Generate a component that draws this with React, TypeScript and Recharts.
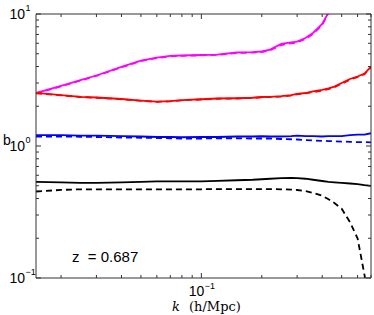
import React from 'react';
import { LineChart, Line, XAxis, YAxis } from 'recharts';

const kValues = [0.015, 0.02, 0.025, 0.03, 0.04, 0.05, 0.06, 0.07, 0.08, 0.1, 0.12, 0.15, 0.18, 0.2, 0.22, 0.25, 0.28, 0.3, 0.33, 0.36, 0.4, 0.43, 0.46, 0.5, 0.55, 0.6, 0.65, 0.7];

const magentaSolid = [2.52, 2.85, 3.16, 3.42, 3.97, 4.44, 4.68, 4.81, 4.85, 4.89, 4.93, 5.11, 5.15, 5.2, 5.38, 5.93, 6.09, 6.17, 6.58, 7.18, 8.4, 10.3, null, null, null, null, null, null];
const magentaDashed = [2.5, 2.83, 3.13, 3.4, 3.94, 4.4, 4.64, 4.78, 4.82, 4.86, 4.9, 5.06, 5.1, 5.14, 5.3, 5.82, 6.0, 6.08, 6.48, 7.05, 8.25, 10.2, null, null, null, null, null, null];
const redSolid = [2.53, 2.43, 2.36, 2.33, 2.27, 2.21, 2.17, 2.19, 2.23, 2.26, 2.29, 2.3, 2.32, 2.35, 2.36, 2.39, 2.43, 2.48, 2.52, 2.59, 2.66, 2.73, 2.82, 3.0, 3.22, 3.36, 3.54, 3.99];
const redDashed = [2.51, 2.42, 2.35, 2.32, 2.26, 2.2, 2.16, 2.18, 2.22, 2.25, 2.28, 2.29, 2.31, 2.34, 2.35, 2.37, 2.41, 2.46, 2.5, 2.56, 2.63, 2.7, 2.79, 2.96, 3.18, 3.33, 3.5, 3.95];
const blueSolid = [1.21, 1.21, 1.2, 1.2, 1.19, 1.18, 1.17, 1.17, 1.165, 1.17, 1.17, 1.18, 1.18, 1.185, 1.18, 1.18, 1.19, 1.2, 1.19, 1.19, 1.18, 1.19, 1.19, 1.19, 1.21, 1.22, 1.22, 1.25];
const blueDashed = [1.18, 1.18, 1.175, 1.17, 1.16, 1.155, 1.15, 1.145, 1.14, 1.14, 1.145, 1.145, 1.14, 1.14, 1.14, 1.13, 1.125, 1.12, 1.11, 1.1, 1.095, 1.09, 1.085, 1.08, 1.075, 1.07, 1.07, 1.065];
const blackSolid = [0.535, 0.53, 0.525, 0.525, 0.53, 0.535, 0.54, 0.54, 0.54, 0.54, 0.545, 0.55, 0.555, 0.56, 0.565, 0.57, 0.572, 0.57, 0.565, 0.555, 0.543, 0.535, 0.53, 0.525, 0.52, 0.515, 0.505, 0.498];
const blackDashed = [0.452, 0.465, 0.47, 0.47, 0.47, 0.47, 0.47, 0.47, 0.47, 0.47, 0.472, 0.472, 0.472, 0.472, 0.472, 0.47, 0.468, 0.464, 0.455, 0.442, 0.42, 0.395, 0.37, 0.335, 0.265, 0.2, 0.105, 0.05];

const xTicks = [0.02, 0.03, 0.04, 0.05, 0.06, 0.07, 0.08, 0.09, 0.1, 0.2, 0.3, 0.4, 0.5, 0.6, 0.7];
const yTicks = [0.1, 0.2, 0.3, 0.4, 0.5, 0.6, 0.7, 0.8, 0.9, 1, 2, 3, 4, 5, 6, 7, 8, 9, 10];
const xDomain = [0.015, 0.7];
const yDomain = [0.1, 10];

const yLabel = 'b';
const xLabelVar = 'k';
const xLabelUnit = '(h/Mpc)';
const annotation = 'z  = 0.687';

const data = kValues.map((k, i) => ({
  k,
  magentaSolid: magentaSolid[i],
  magentaDashed: magentaDashed[i],
  redSolid: redSolid[i],
  redDashed: redDashed[i],
  blueSolid: blueSolid[i],
  blueDashed: blueDashed[i],
  blackSolid: blackSolid[i],
  blackDashed: blackDashed[i],
}));

const AX = '#333';
const SANS = '"Liberation Sans", Arial, Helvetica, sans-serif';

const isDecade = (v: number) => Math.abs(Math.log10(v) - Math.round(Math.log10(v))) < 1e-6;
const expOf = (v: number) => {
  const e = Math.round(Math.log10(v));
  return e < 0 ? '\u2212' + Math.abs(e) : String(e);
};

const makeXTick = (side: 'bottom' | 'top') => (props: any) => {
  const { x, y, payload } = props;
  const v = payload.value;
  const major = isDecade(v);
  const len = major ? 5 : 3;
  const dir = side === 'bottom' ? -1 : 1;
  return (
    <g>
      <line x1={x} x2={x} y1={y} y2={y + dir * len} stroke={AX} strokeWidth={1} />
      {side === 'bottom' && major && (
        <g fontFamily={SANS} fill="#000">
          <text x={x + 3} y={y + 17.5} fontSize={14} textAnchor="end">10</text>
          <text x={x + 3.5} y={y + 11} fontSize={9} textAnchor="start">{expOf(v)}</text>
        </g>
      )}
    </g>
  );
};

const makeYTick = (side: 'left' | 'right') => (props: any) => {
  const { x, y, payload } = props;
  const v = payload.value;
  const major = isDecade(v);
  const len = major ? 5 : 3;
  const dir = side === 'left' ? 1 : -1;
  return (
    <g>
      <line x1={x} x2={x + dir * len} y1={y} y2={y} stroke={AX} strokeWidth={1} />
      {side === 'left' && major && (
        <g fontFamily={SANS} fill="#000">
          <text x={x - 11} y={y + 5} fontSize={14} textAnchor="end">10</text>
          <text x={x - 10.5} y={y - 3} fontSize={9} textAnchor="start">{expOf(v)}</text>
        </g>
      )}
    </g>
  );
};

const series = [
  { key: 'magentaSolid', color: '#ff00ff', dash: undefined },
  { key: 'magentaDashed', color: '#ff00ff', dash: '6 4' },
  { key: 'redSolid', color: '#ff0000', dash: undefined },
  { key: 'redDashed', color: '#ff0000', dash: '6 4' },
  { key: 'blueSolid', color: '#0000ff', dash: undefined },
  { key: 'blueDashed', color: '#0000ff', dash: '6 4' },
  { key: 'blackSolid', color: '#000000', dash: undefined },
  { key: 'blackDashed', color: '#000000', dash: '6 4' },
];

export default function App() {
  return (
    <div style={{ position: 'absolute', left: 0, top: 0, width: 374, height: 315, background: '#fff' }}>
      <LineChart width={374} height={315} data={data} margin={{ top: 13, right: 2, bottom: 36, left: 35 }}>
        <XAxis
          xAxisId="bottom"
          dataKey="k"
          type="number"
          scale="log"
          domain={xDomain}
          allowDataOverflow
          ticks={xTicks}
          interval={0}
          height={1}
          tickSize={0}
          tickMargin={0}
          axisLine={{ stroke: AX }}
          tickLine={false}
          tick={makeXTick('bottom')}
        />
        <XAxis
          xAxisId="top"
          orientation="top"
          dataKey="k"
          type="number"
          scale="log"
          domain={xDomain}
          allowDataOverflow
          ticks={xTicks}
          interval={0}
          height={1}
          tickSize={0}
          tickMargin={0}
          axisLine={{ stroke: AX }}
          tickLine={false}
          tick={makeXTick('top')}
        />
        <YAxis
          yAxisId="left"
          type="number"
          scale="log"
          domain={yDomain}
          allowDataOverflow
          ticks={yTicks}
          interval={0}
          width={1}
          tickSize={0}
          tickMargin={0}
          axisLine={{ stroke: AX }}
          tickLine={false}
          tick={makeYTick('left')}
        />
        <YAxis
          yAxisId="right"
          orientation="right"
          type="number"
          scale="log"
          domain={yDomain}
          allowDataOverflow
          ticks={yTicks}
          interval={0}
          width={1}
          tickSize={0}
          tickMargin={0}
          axisLine={{ stroke: AX }}
          tickLine={false}
          tick={makeYTick('right')}
        />
        {series.map((s) => (
          <Line
            key={s.key}
            xAxisId="bottom"
            yAxisId="left"
            type="linear"
            dataKey={s.key}
            stroke={s.color}
            strokeWidth={1.8}
            strokeDasharray={s.dash}
            dot={false}
            activeDot={false}
            isAnimationActive={false}
          />
        ))}
      </LineChart>
      <svg width={374} height={315} style={{ position: 'absolute', left: 0, top: 0, pointerEvents: 'none' }}>
        <text x={3} y={145} fontSize={14} fontFamily={SANS} fill="#000">{yLabel}</text>
        <text x={72} y={262} fontSize={15} fontFamily={SANS} fill="#000" style={{ whiteSpace: 'pre' }}>{annotation}</text>
        <text y={311} fontSize={13} fontFamily='"DejaVu Serif", serif' fill="#000">
          <tspan x={172} fontStyle="italic">{xLabelVar}</tspan>
          <tspan x={189}>{xLabelUnit}</tspan>
        </text>
      </svg>
    </div>
  );
}
